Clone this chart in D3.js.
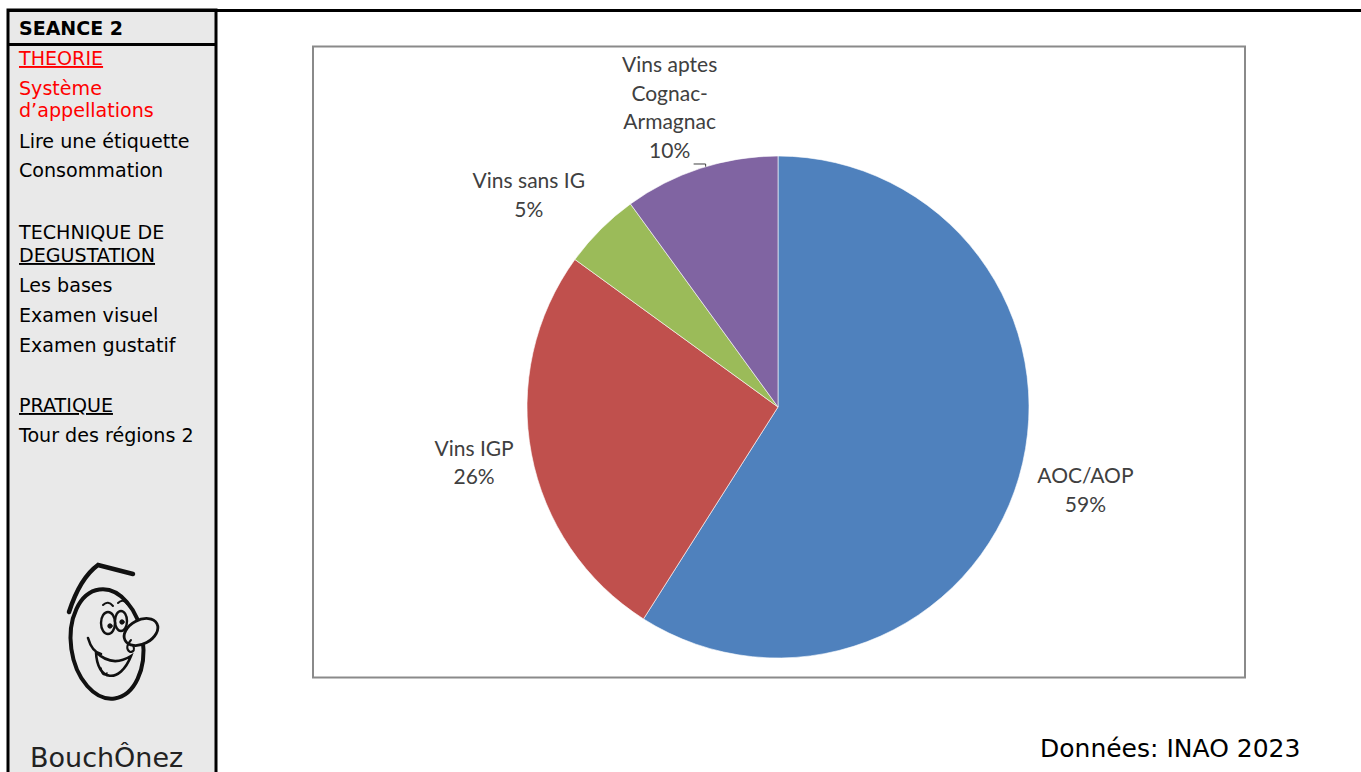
<!DOCTYPE html>
<html><head><meta charset="utf-8">
<script src="https://cdn.jsdelivr.net/npm/d3@7"></script>
<style>html,body{margin:0;padding:0;background:#fff;overflow:hidden}</style>
</head><body>
<svg id="c" width="1361" height="772"></svg>
<script>
// ---- data ----
const categories = ["AOC/AOP", "Vins IGP", "Vins sans IG", "Vins aptes Cognac-Armagnac"];
const labelLines = [["AOC/AOP"], ["Vins IGP"], ["Vins sans IG"], ["Vins aptes", "Cognac-", "Armagnac"]];
const shares = [59, 26, 5, 10];
const sliceColors = ["#4F81BD", "#C0504D", "#9BBB59", "#8064A2"];
const menuItems = [
  {t: "THEORIE", red: true, u: true},
  {t: "Système", red: true},
  {t: "d’appellations", red: true},
  {t: "Lire une étiquette"},
  {t: "Consommation"},
  {t: "TECHNIQUE DE"},
  {t: "DEGUSTATION", u: true},
  {t: "Les bases"},
  {t: "Examen visuel"},
  {t: "Examen gustatif"},
  {t: "PRATIQUE", u: true},
  {t: "Tour des régions 2"}
];
const menuBaselines = [65, 95, 117, 148, 177, 239, 262, 292, 322, 352, 412, 442];
const source = "Données: INAO 2023";

const svg = d3.select("#c");

// ---- sidebar ----
svg.append("rect").attr("x", 8).attr("y", 10).attr("width", 208).attr("height", 770)
  .attr("fill", "#e9e9e9").attr("stroke", "#000").attr("stroke-width", 3);
svg.append("line").attr("x1", 7).attr("x2", 1361).attr("y1", 10.5).attr("y2", 10.5)
  .attr("stroke", "#000").attr("stroke-width", 3);
svg.append("line").attr("x1", 8).attr("x2", 216).attr("y1", 44.5).attr("y2", 44.5)
  .attr("stroke", "#000").attr("stroke-width", 3);
svg.append("text").attr("x", 19).attr("y", 35).text("SEANCE 2")
  .attr("font-family", "DejaVu Sans, Verdana, sans-serif").attr("font-weight", "bold")
  .attr("font-size", 19).attr("fill", "#000");
svg.append("g").selectAll("text").data(menuItems).join("text")
  .attr("x", 19).attr("y", (d, i) => menuBaselines[i])
  .attr("font-family", "DejaVu Sans, Verdana, sans-serif").attr("font-size", 19.1)
  .attr("fill", d => d.red ? "#ff0000" : "#000")
  .attr("text-decoration", d => d.u ? "underline" : null)
  .text(d => d.t);

// logo
const logo = svg.append("g").attr("fill", "none").attr("stroke", "#111").attr("stroke-linecap", "round");
logo.append("path").attr("d", "M69,612 Q80,578 98,565 L133,574").attr("stroke-width", 4.5);
logo.append("ellipse").attr("cx", 107).attr("cy", 644).attr("rx", 36).attr("ry", 55)
  .attr("transform", "rotate(-8 107 644)").attr("stroke-width", 4);
logo.append("ellipse").attr("cx", 108).attr("cy", 623).attr("rx", 7).attr("ry", 11).attr("stroke-width", 2.4);
logo.append("ellipse").attr("cx", 121).attr("cy", 621).attr("rx", 6).attr("ry", 10).attr("stroke-width", 2.4);
logo.append("circle").attr("cx", 110).attr("cy", 626).attr("r", 2.2).attr("fill", "#111");
logo.append("circle").attr("cx", 122).attr("cy", 622).attr("r", 2.2).attr("fill", "#111");
logo.append("path").attr("d", "M103,605 Q108,600 113,606 M118,603 Q123,598 127,604").attr("stroke-width", 2);
logo.append("ellipse").attr("cx", 141).attr("cy", 632).attr("rx", 18).attr("ry", 12)
  .attr("transform", "rotate(-28 141 632)").attr("stroke-width", 2.8).attr("fill", "#e9e9e9");
logo.append("path").attr("d", "M131,640 Q124,648 130,652 Q136,652 133,645").attr("stroke-width", 2);
logo.append("path").attr("d", "M88,638 Q92,652 101,654 M96,652 C97,682 120,684 131,656 C118,664 106,662 96,652")
  .attr("stroke-width", 2.6);
logo.append("path").attr("d", "M101,668 Q102,678 107,673").attr("stroke-width", 1.6);
svg.append("text").attr("x", 30).attr("y", 767).text("BouchÔnez")
  .attr("font-family", "DejaVu Sans, sans-serif")
  .attr("font-size", 27).attr("fill", "#222");

// ---- chart frame ----
svg.append("rect").attr("x", 313).attr("y", 46.5).attr("width", 932).attr("height", 631)
  .attr("fill", "#fff").attr("stroke", "#8a8a8a").attr("stroke-width", 2);

// ---- pie ----
const cx = 778, cy = 407, R = 251;
const pie = d3.pie().sort(null).value(d => d)(shares);
const arc = d3.arc().innerRadius(0).outerRadius(R);
const g = svg.append("g").attr("transform", `translate(${cx},${cy})`);
g.selectAll("path").data(pie).join("path")
  .attr("d", arc).attr("fill", (d, i) => sliceColors[i])
  .attr("stroke", "#fff").attr("stroke-width", 0.6);

// labels (outside end, Excel-like)
const fontLabel = "Lato, 'Open Sans', sans-serif";
const lineH = 28.5, fs = 21;
const lbl = g.append("g").attr("font-family", fontLabel).attr("font-size", fs).attr("fill", "#404040")
  .attr("text-anchor", "middle");
pie.forEach((d, i) => {
  const lines = labelLines[i].concat([shares[i] + "%"]);
  const a = (d.startAngle + d.endAngle) / 2;
  const ux = Math.sin(a), uy = -Math.cos(a);
  const t = lbl.append("text");
  lines.forEach((s, k) => t.append("tspan").attr("x", 0).attr("dy", k === 0 ? 0 : lineH).text(s));
  const bb = t.node().getBBox();
  const w = bb.width, h = lines.length * lineH;
  const sx = Math.sign(ux) * Math.min(1, Math.abs(ux) * 2) * 1.1 * w / 2;
  const gap = lines.length > 2 ? 246 : 265;
  const lx = gap * ux + sx;
  const ly = gap * uy + uy * 1.2 * h / 2;
  const top = ly - h / 2;
  t.attr("transform", `translate(${lx},${top + lineH * 0.75})`);
  if (lines.length > 2) {
    // leader line from label to slice edge
    const x0 = lx + 24, y0 = top + h - 1;
    const x1 = x0 + 12;
    const y1 = -Math.sqrt(R * R - x1 * x1);
    g.append("path").attr("d", `M${x0},${y0}H${x1}V${y1}`)
      .attr("fill", "none").attr("stroke", "#404040").attr("stroke-width", 1);
  }
});

// ---- source ----
svg.append("text").attr("x", 1040).attr("y", 757).text(source)
  .attr("font-family", "DejaVu Sans, Verdana, sans-serif").attr("font-size", 25).attr("fill", "#000");
</script>
</body></html>
